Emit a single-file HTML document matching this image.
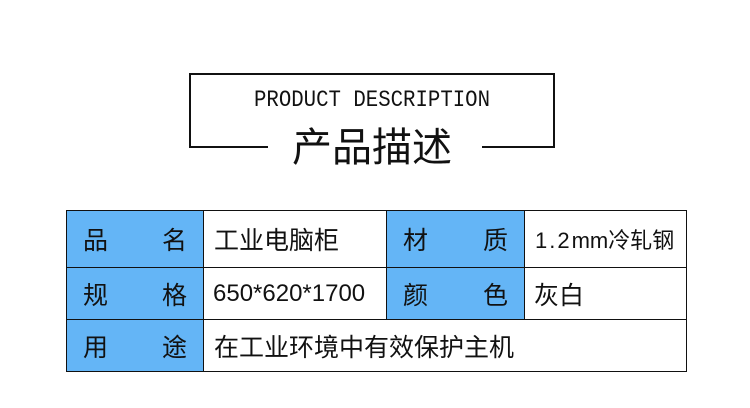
<!DOCTYPE html>
<html><head><meta charset="utf-8"><style>
body{margin:0;width:750px;height:408px;background:#fff;position:relative;overflow:hidden;font-family:"Liberation Sans","Noto Sans CJK SC",sans-serif;}
.a{position:absolute}
.ln{position:absolute;background:#111}
.cell{position:absolute;box-sizing:border-box;display:flex;align-items:center;font-size:25px;color:#111;white-space:nowrap}
.lab{background:#64b5f6;justify-content:space-between;padding:0 16px 0 16px}
.val{padding-left:10px}
</style></head><body>
<div class="ln" style="left:189px;top:73px;width:366px;height:2px"></div>
<div class="ln" style="left:189px;top:73px;width:2px;height:75px"></div>
<div class="ln" style="left:553px;top:73px;width:2px;height:75px"></div>
<div class="ln" style="left:189px;top:146px;width:79px;height:2px"></div>
<div class="ln" style="left:482px;top:146px;width:73px;height:2px"></div>
<div class="a" style="left:172px;width:400px;top:87px;text-align:center;font-family:'Liberation Mono',monospace;font-size:23px;line-height:26px;color:#111;transform:scaleX(0.9)">PRODUCT DESCRIPTION</div>
<div class="a" style="left:189px;width:366px;top:120px;text-align:center;font-size:40px;line-height:48px;color:#111;font-family:'Noto Sans CJK SC',sans-serif">产品描述</div>

<div class="a" style="left:66px;top:210px;width:621px;height:162px;border:1px solid #111;box-sizing:border-box"></div>
<div class="cell lab" style="left:67px;top:211px;width:136px;height:56px"><span>品</span><span>名</span></div>
<div class="cell val" style="left:204px;top:211px;width:182px;height:56px">工业电脑柜</div>
<div class="cell lab" style="left:387px;top:211px;width:137px;height:56px"><span>材</span><span>质</span></div>
<div class="cell val" style="left:525px;top:211px;width:161px;height:56px;padding-left:10px;font-size:22px"><div><span style="letter-spacing:2px">1.2</span>mm冷轧钢</div></div>
<div class="cell lab" style="left:67px;top:268px;width:136px;height:51px"><span>规</span><span>格</span></div>
<div class="cell val" style="left:204px;top:268px;width:182px;height:51px;font-size:24px;padding-left:9px">650*620*1700</div>
<div class="cell lab" style="left:387px;top:268px;width:137px;height:51px"><span>颜</span><span>色</span></div>
<div class="cell val" style="left:525px;top:268px;width:161px;height:51px;padding-left:9px">灰白</div>
<div class="cell lab" style="left:67px;top:320px;width:136px;height:51px"><span>用</span><span>途</span></div>
<div class="cell val" style="left:204px;top:320px;width:482px;height:51px">在工业环境中有效保护主机</div>
<div class="ln" style="left:66px;top:267px;width:621px;height:1px"></div>
<div class="ln" style="left:66px;top:319px;width:621px;height:1px"></div>
<div class="ln" style="left:203px;top:210px;width:1px;height:162px"></div>
<div class="ln" style="left:386px;top:210px;width:1px;height:109px"></div>
<div class="ln" style="left:524px;top:210px;width:1px;height:109px"></div>
</body></html>
